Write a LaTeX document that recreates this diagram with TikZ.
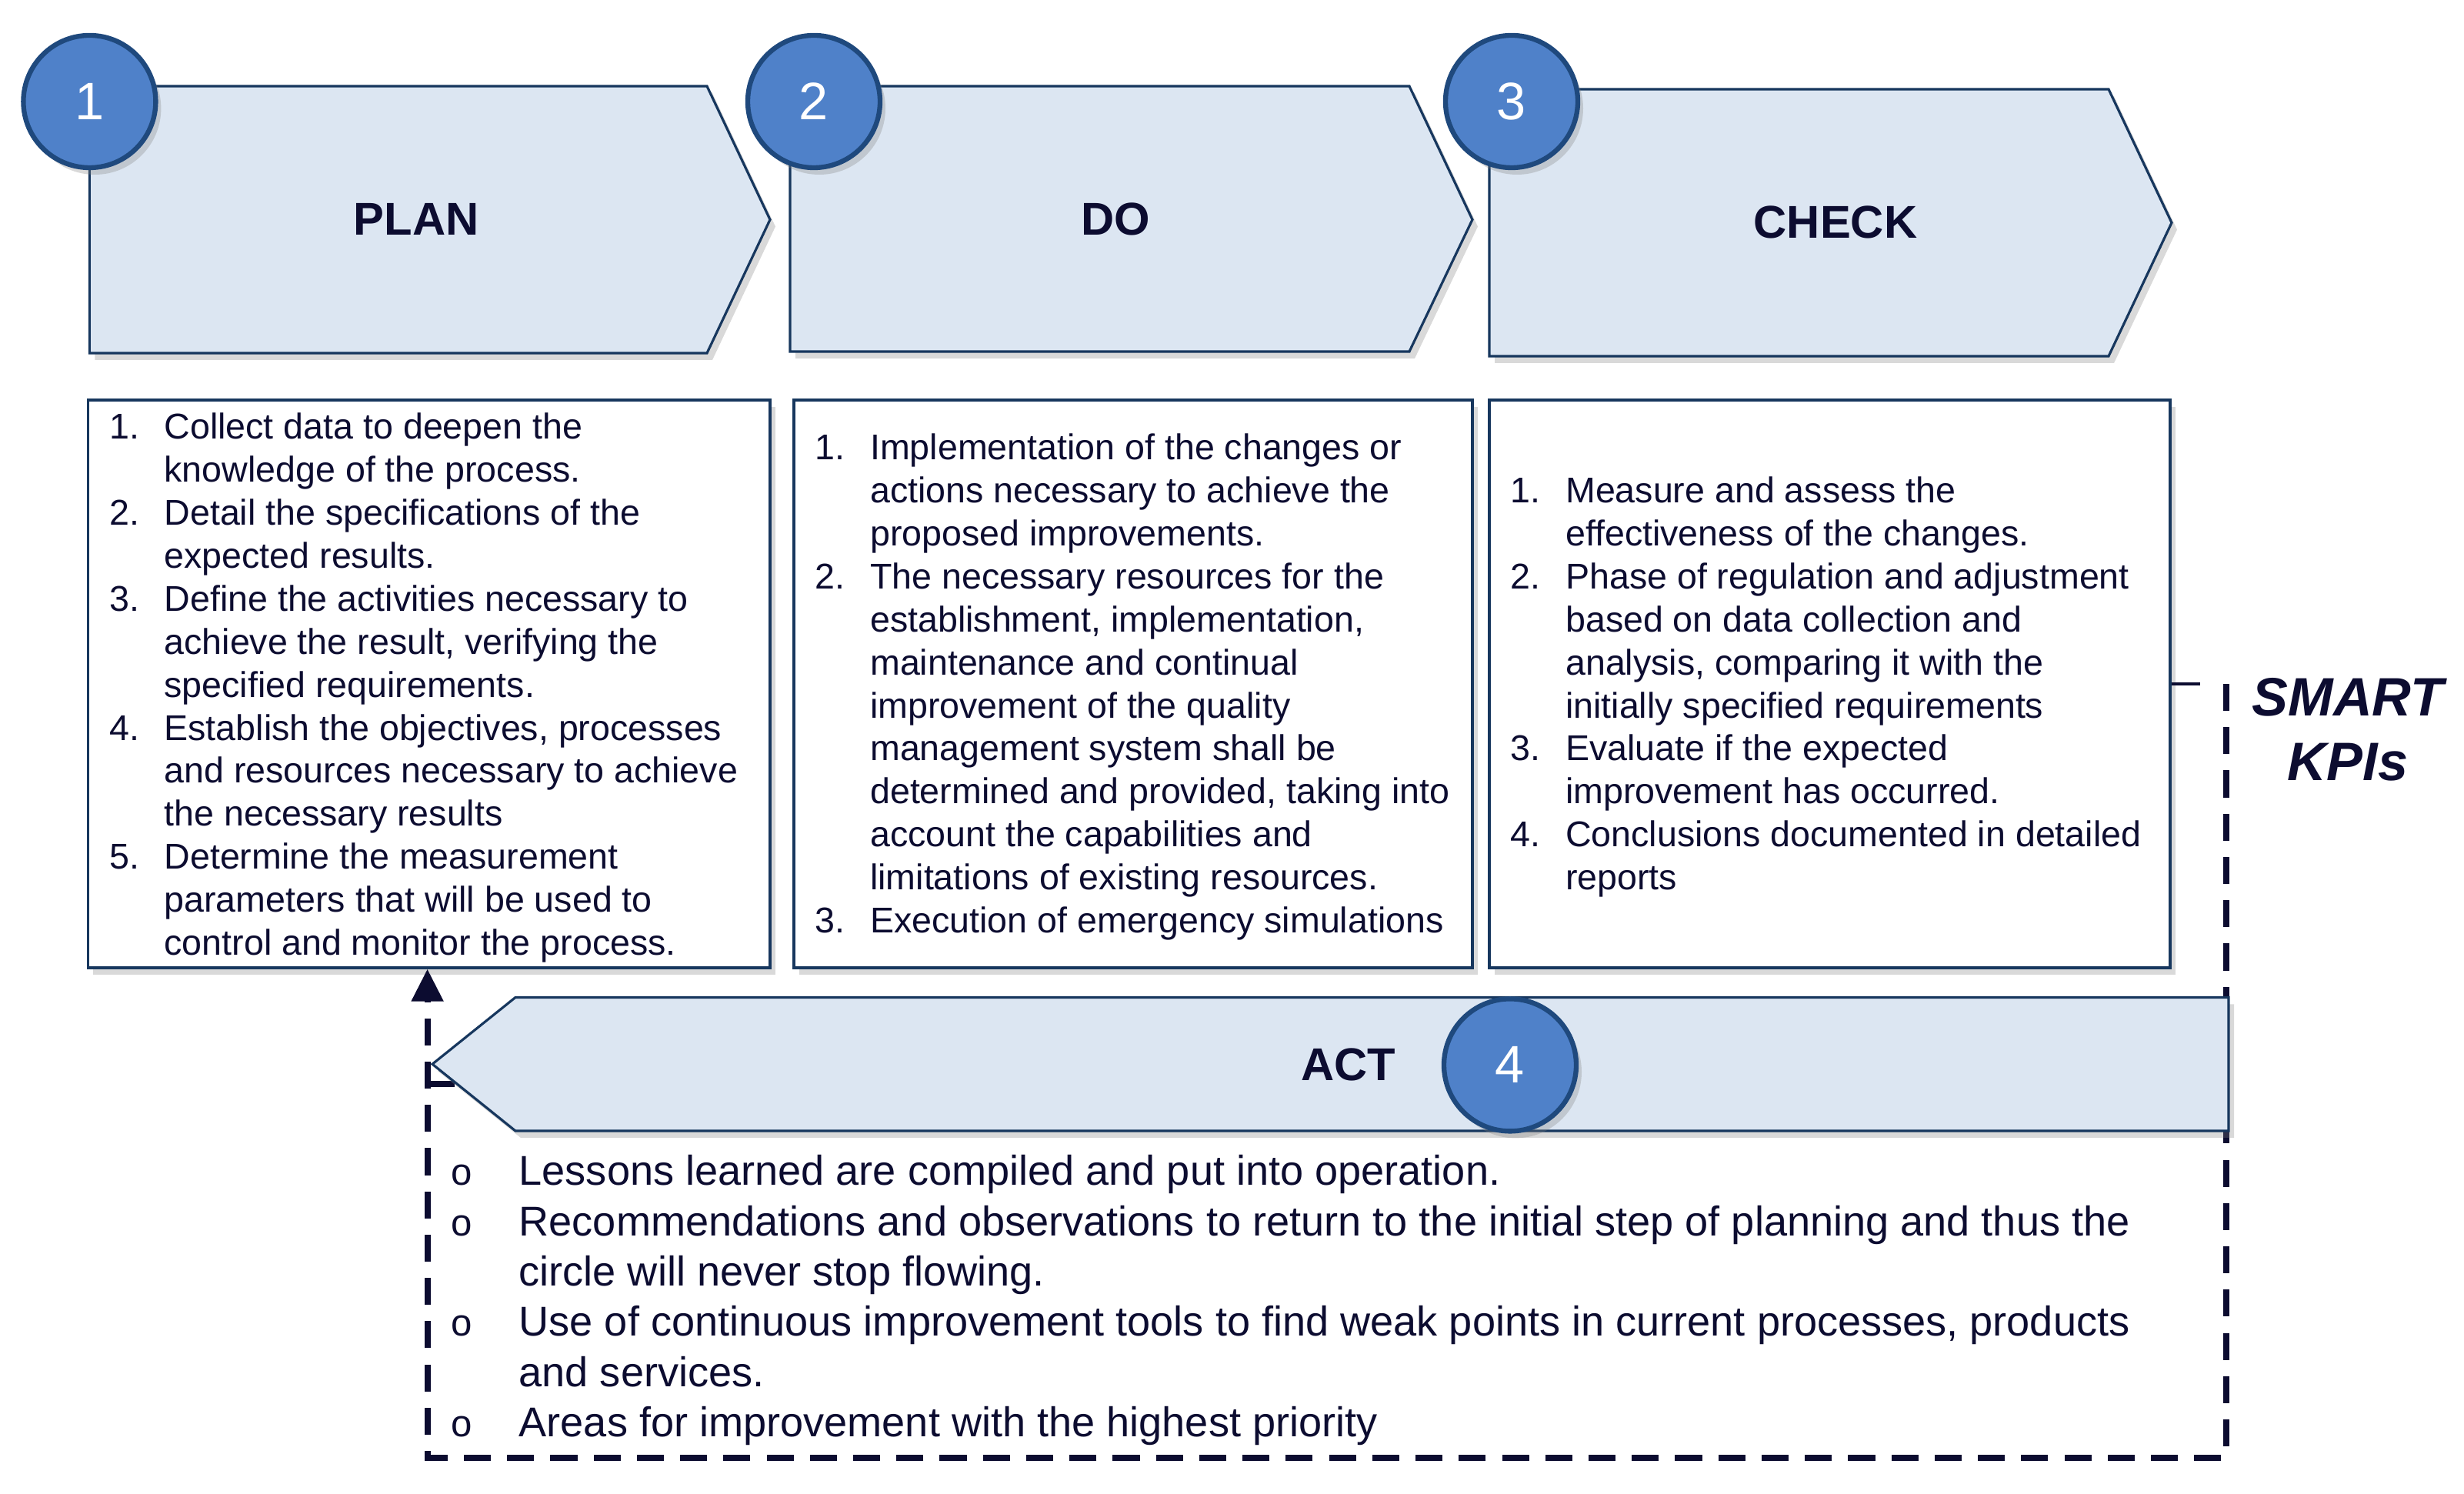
\documentclass[tikz,border=0pt]{standalone}
\usepackage{fontspec}
\setmainfont{Liberation Sans}
\usepackage{tikz}
\usetikzlibrary{arrows.meta,shadows}
\definecolor{phasefill}{RGB}{220,230,242}
\definecolor{phaseline}{RGB}{23,55,94}
\definecolor{numfill}{RGB}{79,129,201}
\definecolor{numline}{RGB}{31,73,125}
\definecolor{inknavy}{RGB}{12,12,48}

\begin{document}
\begin{tikzpicture}[>=Stealth,
  softshadow/.style={drop shadow={shadow xshift=0.07cm, shadow yshift=-0.09cm, opacity=0.3}},
  phase/.style={fill=phasefill, draw=phaseline, line width=0.9pt, softshadow},
  phasename/.style={font=\fontsize{17}{20}\selectfont\bfseries, text=inknavy},
  numcircle/.style={circle, minimum size=1.72cm, inner sep=0pt, fill=numfill,
    draw=numline, line width=1.8pt, text=white, font=\fontsize{19.5}{22}\selectfont, softshadow},
  listbox/.style={draw=phaseline, line width=0.9pt, fill=white, minimum height=7.38cm, softshadow},
  listtext/.style={anchor=west, inner sep=0pt, text=inknavy, font=\fontsize{13.25}{15.9}\selectfont},
  kpiline/.style={draw=inknavy, line width=2.3pt, dash pattern=on 10pt off 6pt}
]
\useasboundingbox (0,0) rectangle (32.03,19.42);

% Caixes
\node[listbox, minimum width=8.866cm] (planbox) at (5.577,10.53) {};
\node[listbox, minimum width=8.82cm] (dobox) at (14.73,10.53) {};
\node[listbox, minimum width=8.85cm] (checkbox) at (23.785,10.53) {};

\node[listtext] (plantext) at ([xshift=0.286cm,yshift=-0.06cm]planbox.west) {\begin{tabular}{@{}p{0.715cm}@{}l@{}}
1. & Collect data to deepen the\\
   & knowledge of the process.\\
2. & Detail the specifications of the\\
   & expected results.\\
3. & Define the activities necessary to\\
   & achieve the result, verifying the\\
   & specified requirements.\\
4. & Establish the objectives, processes\\
   & and resources necessary to achieve\\
   & the necessary results\\
5. & Determine the measurement\\
   & parameters that will be used to\\
   & control and monitor the process.
\end{tabular}};

\node[listtext] (dotext) at ([xshift=0.286cm,yshift=-0.05cm]dobox.west) {\begin{tabular}{@{}p{0.715cm}@{}l@{}}
1. & Implementation of the changes or\\
   & actions necessary to achieve the\\
   & proposed improvements.\\
2. & The necessary resources for the\\
   & establishment, implementation,\\
   & maintenance and continual\\
   & improvement of the quality\\
   & management system shall be\\
   & determined and provided, taking into\\
   & account the capabilities and\\
   & limitations of existing resources.\\
3. & Execution of emergency simulations
\end{tabular}};

\node[listtext] (checktext) at ([xshift=0.286cm,yshift=-0.05cm]checkbox.west) {\begin{tabular}{@{}p{0.715cm}@{}l@{}}
1. & Measure and assess the\\
   & effectiveness of the changes.\\
2. & Phase of regulation and adjustment\\
   & based on data collection and\\
   & analysis, comparing it with the\\
   & initially specified requirements\\
3. & Evaluate if the expected\\
   & improvement has occurred.\\
4. & Conclusions documented in detailed\\
   & reports
\end{tabular}};

% Retorn SMART KPIs
\coordinate (kpi) at ([xshift=0.71cm]checkbox.east);
\coordinate (loop) at (5.556,0.47);
\coordinate (acttop) at (5.556,5.33);
\draw[line width=0.9pt, draw=inknavy] (checkbox.east) -- ++(0.37,0);
\draw[kpiline] (acttop) -- ++(1,0);
\draw[kpiline, -{Triangle[length=0.42cm, width=0.4cm]}] (kpi) |- (loop) -- (planbox.south -| loop);
\node[font=\fontsize{20}{24}\selectfont\bfseries\itshape, text=inknavy, align=center] (kpis) at (30.52,9.94) {SMART\\KPIs};

% Fases
\path[phase] (1.164,18.30) -- (9.19,18.30) -- (10.01,16.565) -- (9.19,14.83) -- (1.164,14.83) -- cycle;
\path[phase] (10.27,18.30) -- (18.32,18.30) -- (19.14,16.565) -- (18.32,14.85) -- (10.27,14.85) -- cycle;
\path[phase] (19.36,18.26) -- (27.41,18.26) -- (28.23,16.525) -- (27.41,14.79) -- (19.36,14.79) -- cycle;
\path[phase] (5.62,5.588) -- (6.70,6.455) -- (28.97,6.455) -- (28.97,4.72) -- (6.70,4.72) -- cycle;

\node[phasename] (plan) at (5.41,16.57) {PLAN};
\node[phasename] (do) at (14.50,16.57) {DO};
\node[phasename] (check) at (23.86,16.53) {CHECK};
\node[phasename] (act) at (17.53,5.576) {ACT};

% Numeros
\node[numcircle] (n1) at (1.164,18.10) {1};
\node[numcircle] (n2) at (10.58,18.10) {2};
\node[numcircle] (n3) at (19.65,18.10) {3};
\node[numcircle] (n4) at (19.63,5.576) {4};

% Llista ACT
\node[listtext, font=\fontsize{15.4}{18.6}\selectfont] (acttext) at (5.82,2.51) {\begin{tabular}{@{}p{0.92cm}@{}l@{}}
\hspace*{0.04cm}{\fontsize{14}{14}\selectfont o} & Lessons learned are compiled and put into operation.\\
\hspace*{0.04cm}{\fontsize{14}{14}\selectfont o} & Recommendations and observations to return to the initial step of planning and thus the\\
   & circle will never stop flowing.\\
\hspace*{0.04cm}{\fontsize{14}{14}\selectfont o} & Use of continuous improvement tools to find weak points in current processes, products\\
   & and services.\\
\hspace*{0.04cm}{\fontsize{14}{14}\selectfont o} & Areas for improvement with the highest priority
\end{tabular}};

\end{tikzpicture}
\end{document}
